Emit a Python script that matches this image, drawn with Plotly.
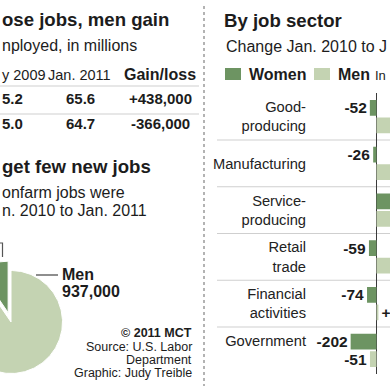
import numpy as np
import plotly.graph_objects as go

# ---------------- data ----------------
table_header_fragments = ["y 2009", "Jan. 2011", "Gain/loss"]
col_2009_fragments = ["5.2", "5.0"]          # left part cropped in the original
emp_jan2011 = [65.6, 64.7]                   # millions
gain_loss = [438000, -366000]

pie_labels = ["Men", "Women"]
pie_values = [937000, 99000]

sectors = ["Good-<br>producing", "Manufacturing", "Service-<br>producing",
           "Retail<br>trade", "Financial<br>activities", "Government"]
women_change = [-52, -26, 151, -59, -74, -202]   # thousands
men_change = [116, 162, 821, 171, 15, -51]       # thousands

# ---------------- style ----------------
W = H = 390
DARK = "#6d9462"
LIGHT = "#c4d3b2"
INK = "#1c1c1c"
SANS = "Liberation Sans, Arial, Helvetica, sans-serif"


def P(x):
    return x / W


def Q(y):
    return 1 - y / H


annotations = []


def ann(text, x, y, size, bold=False, anchor="left", color=INK):
    annotations.append(dict(
        text=text, x=P(x), y=Q(y), xref="paper", yref="paper",
        xanchor=anchor, yanchor="middle", showarrow=False,
        font=dict(family=SANS, size=size, color=color,
                  weight="bold" if bold else "normal"),
    ))


fig = go.Figure()

# ---------- bar axes geometry ----------
Y_TOP, Y_BOT = 93.25, 373.75
X_LEFT = 312
ZERO_PX, SCALE = 376.5, 0.128
X_MIN = (X_LEFT - ZERO_PX) / SCALE
X_MAX = (W - ZERO_PX) / SCALE


def lab(v):
    # labels of bars that run past the visible range would sit off the page
    return f"{v:+d}" if v < X_MAX else ""


for name, vals, col in (("Women", women_change, DARK), ("Men", men_change, LIGHT)):
    fig.add_trace(go.Bar(
        y=sectors, x=vals, orientation="h", name=name,
        marker=dict(color=col, line=dict(width=0)),
        text=[lab(v) for v in vals], textposition="outside",
        constraintext="none", cliponaxis=True,
        textfont=dict(family=SANS, size=15.5, color=INK, weight="bold"),
        xaxis="x", yaxis="y", hoverinfo="skip",
    ))

# ---------- left panel: pie drawn on its own axes ----------
R_PX = 51.5
CX, CY = 11, 322
total = sum(pie_values)
start = 90.0
pie_colors = {"Men": LIGHT, "Women": DARK}
explode = {"Men": 0.0, "Women": 0.19}
for lbl, val in zip(pie_labels, pie_values):
    sweep = 360.0 * val / total
    a = np.radians(np.linspace(start, start - sweep, 240))
    mid = np.radians(start - sweep / 2)
    ox, oy = explode[lbl] * np.cos(mid), explode[lbl] * np.sin(mid)
    xs = np.concatenate([[ox], ox + np.cos(a), [ox]])
    ys = np.concatenate([[oy], oy + np.sin(a), [oy]])
    fig.add_trace(go.Scatter(
        x=xs, y=ys, mode="lines", fill="toself", fillcolor=pie_colors[lbl],
        line=dict(color="white", width=1), name=lbl, xaxis="x2", yaxis="y2",
        hoverinfo="skip",
    ))
    start -= sweep

# the last label sits level with its women bar, as in the original
tick_text = sectors[:-1] + [sectors[-1] + "<br>&nbsp;"]

fig.update_layout(
    xaxis2=dict(domain=[0, 0.5], range=[(0 - CX) / R_PX, (195 - CX) / R_PX],
                visible=False, fixedrange=True, anchor="y2"),
    yaxis2=dict(domain=[0, 0.5], range=[(CY - 390) / R_PX, (CY - 195) / R_PX],
                visible=False, fixedrange=True, anchor="x2"),
    xaxis=dict(domain=[P(X_LEFT), 1], range=[X_MIN, X_MAX],
               showticklabels=False, showgrid=False, ticks="",
               zeroline=True, zerolinecolor="#3a3a3a", zerolinewidth=1.3,
               fixedrange=True, anchor="y", automargin=False),
    yaxis=dict(domain=[Q(Y_BOT), Q(Y_TOP)], type="category",
               categoryorder="array", categoryarray=sectors,
               tickmode="array", tickvals=sectors, ticktext=tick_text,
               autorange="reversed", showgrid=False, ticks="",
               showline=False, ticklabelstandoff=5,
               tickfont=dict(family=SANS, size=14.7, color="#222"),
               fixedrange=True, anchor="x", automargin=False),
    barmode="group", bargap=0.25, bargroupgap=0.1,
)

shapes = []
for i in range(1, len(sectors)):
    shapes.append(dict(type="line", xref="paper", yref="y",
                       x0=P(217), x1=1, y0=i - 0.5, y1=i - 0.5,
                       line=dict(color="#cfcfcf", width=1), layer="below"))
shapes.append(dict(type="line", xref="paper", yref="paper",
                   x0=P(204), x1=P(204), y0=Q(6), y1=Q(386),
                   line=dict(color="#9a9a9a", width=1.5, dash="dot")))
for yy in (86, 114):
    shapes.append(dict(type="line", xref="paper", yref="paper",
                       x0=0, x1=P(199), y0=Q(yy), y1=Q(yy),
                       line=dict(color="#cfcfcf", width=1)))
shapes.append(dict(type="rect", xref="paper", yref="paper",
                   x0=P(225), x1=P(241), y0=Q(80), y1=Q(68),
                   fillcolor=DARK, line=dict(width=0)))
shapes.append(dict(type="rect", xref="paper", yref="paper",
                   x0=P(314), x1=P(330), y0=Q(80), y1=Q(68),
                   fillcolor=LIGHT, line=dict(width=0)))
shapes.append(dict(type="line", xref="paper", yref="paper",
                   x0=P(36), x1=P(58), y0=Q(275), y1=Q(275),
                   line=dict(color="#444", width=1.2)))
shapes.append(dict(type="path", xref="paper", yref="paper",
                   path=f"M {P(-5)} {Q(243)} L {P(2.5)} {Q(243)} L {P(2.5)} {Q(257)}",
                   line=dict(color="#555", width=1.2)))

# ---------- text ----------
TITLE = 18.6
ann("ose jobs, men gain", 0, 19, TITLE, True)
ann("nployed, in millions", 0, 45, 16)
ann(table_header_fragments[0], 0, 75, 14.5)
ann(table_header_fragments[1], 79, 75, 14.5, anchor="center")
ann(table_header_fragments[2], 159.5, 74, 16, bold=True, anchor="center")
for i, yy in enumerate((98, 123.5)):
    ann(col_2009_fragments[i], 0, yy, 15, bold=True)
    ann(f"{emp_jan2011[i]:.1f}", 80.5, yy, 15, bold=True, anchor="center")
    ann(f"{gain_loss[i]:+,d}", 160, yy, 15, bold=True, anchor="center")
ann("get few new jobs", 0, 166, TITLE, True)
ann("onfarm jobs were", 0, 192, 16)
ann("n. 2010 to Jan. 2011", 0, 210, 16)
ann(pie_labels[0], 60, 274, 16, True)
ann(f"{pie_values[0]:,d}", 60, 291, 16, True)
ann("© 2011 MCT", 194, 332.5, 12.5, bold=True, anchor="right")
ann("Source: U.S. Labor", 194, 347, 12.5, anchor="right")
ann("Department", 194, 359.5, 12.5, anchor="right")
ann("Graphic: Judy Treible", 194, 372.5, 12.5, anchor="right")

ann("By job sector", 222, 20, TITLE, True)
ann("Change Jan. 2010 to J", 224, 46, 16)
ann(pie_labels[1], 247, 74, 16, True)
ann(pie_labels[0], 336, 74, 16, True)
ann("In", 373, 75, 13)

fig.update_layout(
    width=W, height=H, margin=dict(l=0, r=0, t=0, b=0),
    paper_bgcolor="white", plot_bgcolor="white",
    showlegend=False, shapes=shapes, annotations=annotations,
)

fig.write_html(
    "out.html",
    config={"displayModeBar": False, "staticPlot": True},
    post_script="document.body.style.margin='0';document.body.style.padding='0';",
)
